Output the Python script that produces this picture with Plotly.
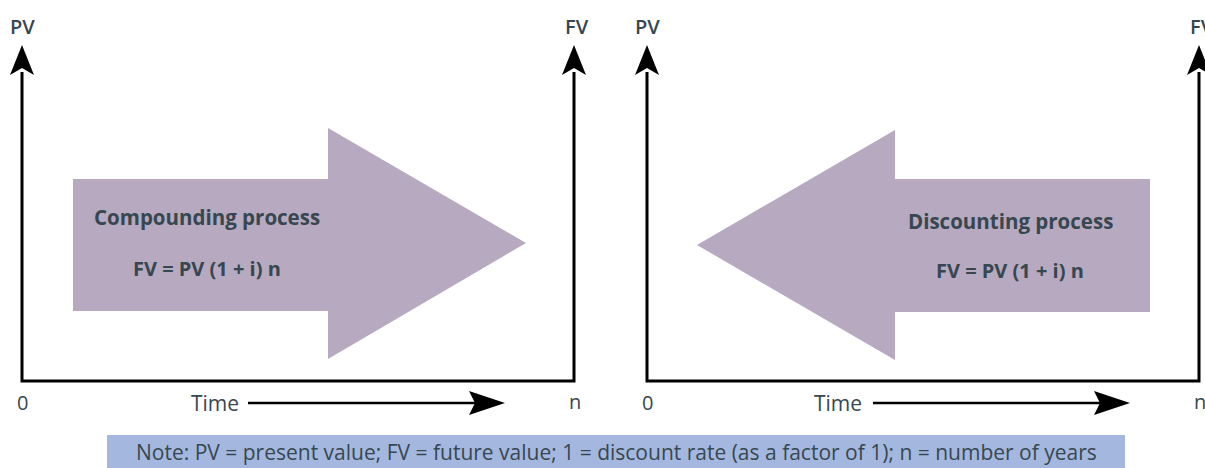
import plotly.graph_objects as go

W, H = 1205, 468

# Panel axis positions (pixel space)
panel_left_x = [22, 647]
panel_right_x = [574, 1199]
axis_bottom_y = 381
axis_top_y = 72

# Big process arrows outlines
compound_arrow_x = [73, 328, 328, 526, 328, 328, 73, 73]
compound_arrow_y = [179, 179, 128, 243, 359, 311, 311, 179]
discount_arrow_x = [1150, 895, 895, 697, 895, 895, 1150, 1150]
discount_arrow_y = [179, 179, 130, 245, 360, 312, 312, 179]

time_arrow_start = [248, 873]
time_arrow_end = [505, 1130]
time_label_x = [215, 838]

process_titles = ["Compounding process", "Discounting process"]
process_title_pos = [(207, 217), (1010, 221)]
formula_text = ["FV = PV (1 + i) n", "FV = PV (1 + i) n"]
formula_pos = [(207, 268), (1010, 270)]

note_text = "Note: PV = present value; FV = future value; 1 = discount rate (as a factor of 1); n = number of years"
note_box = [107, 1125, 435, 468]

ARROW_FILL = "#b6a9c0"
TXT = "#37474f"
NOTE_FILL = "#a4b8df"

fig = go.Figure()

def poly(xs, ys, color):
    fig.add_trace(go.Scatter(x=xs, y=ys, mode="lines", fill="toself", fillcolor=color,
                             line=dict(width=0, color=color), hoverinfo="skip", showlegend=False))

def line(xs, ys, w=3):
    fig.add_trace(go.Scatter(x=xs, y=ys, mode="lines", line=dict(color="black", width=w),
                             hoverinfo="skip", showlegend=False))

# note box
poly([note_box[0], note_box[1], note_box[1], note_box[0], note_box[0]],
     [note_box[2], note_box[2], note_box[3], note_box[3], note_box[2]], NOTE_FILL)

# big arrows
poly(compound_arrow_x, compound_arrow_y, ARROW_FILL)
poly(discount_arrow_x, discount_arrow_y, ARROW_FILL)

# axes
for lx, rx in zip(panel_left_x, panel_right_x):
    line([lx, lx, rx, rx], [axis_top_y, axis_bottom_y, axis_bottom_y, axis_top_y])
    for x in (lx, rx):
        poly([x - 12, x, x + 12, x, x - 12], [75, 45, 75, 68, 75], "black")

# time arrows
for s, e in zip(time_arrow_start, time_arrow_end):
    line([s, e - 20], [403, 403], w=2.5)
    poly([e - 36, e, e - 36, e - 30, e - 36], [391, 403, 415, 403, 391], "black")

ann = []
def txt(x, y, t, size=16, weight=700, color=TXT, xanchor="center"):
    ann.append(dict(x=x, y=y, text=t, showarrow=False, xanchor=xanchor, yanchor="middle",
                    font=dict(family="Open Sans", size=size, color=color, weight=weight)))

for lx, rx in zip(panel_left_x, panel_right_x):
    txt(lx, 26, "PV", size=20, weight=600)
    txt(rx + 3, 26, "FV", size=20, weight=600)
    txt(lx, 402, "0", size=20, weight=400)
    txt(rx + 1, 401, "n", size=20, weight=400)
for tx in time_label_x:
    txt(tx, 403, "Time", size=21, weight=400)
for t, (x, y) in zip(process_titles, process_title_pos):
    txt(x, y, t, size=20.5, weight=700)
for t, (x, y) in zip(formula_text, formula_pos):
    txt(x, y, t, size=20, weight=700)
txt((note_box[0] + note_box[1]) / 2, 452, note_text, size=21, weight=400)

fig.update_layout(
    width=W, height=H, margin=dict(l=0, r=0, t=0, b=0),
    paper_bgcolor="white", plot_bgcolor="white",
    xaxis=dict(range=[0, W], visible=False, fixedrange=True),
    yaxis=dict(range=[H, 0], visible=False, fixedrange=True),
    annotations=ann, showlegend=False,
)
fig.write_html("out.html", config={"displayModeBar": False},
               post_script="document.body.style.margin='0';document.body.style.overflow='hidden';")
